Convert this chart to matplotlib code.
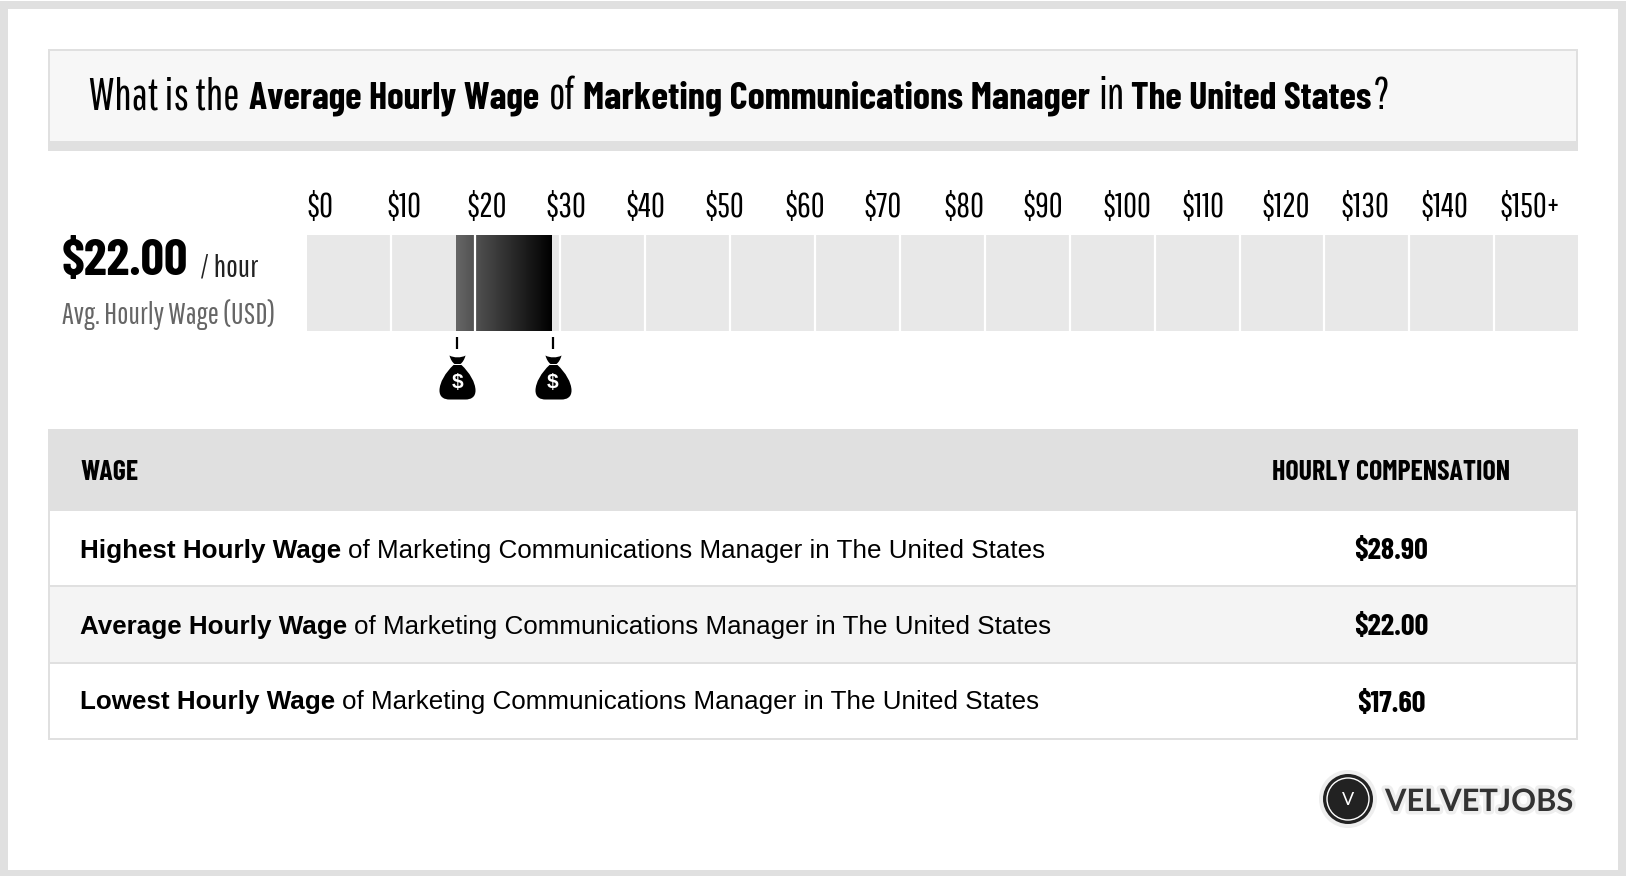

import numpy as np
import matplotlib
matplotlib.use("Agg")
import matplotlib.pyplot as plt
from matplotlib.patches import Rectangle, Circle
from matplotlib.path import Path
from matplotlib.colors import LinearSegmentedColormap
import matplotlib.patheffects as pe

# ---- data ----
tick_values = [0, 10, 20, 30, 40, 50, 60, 70, 80, 90, 100, 110, 120, 130, 140, 150]
tick_labels = [r"\$0", r"\$10", r"\$20", r"\$30", r"\$40", r"\$50", r"\$60", r"\$70", r"\$80",
               r"\$90", r"\$100", r"\$110", r"\$120", r"\$130", r"\$140", r"\$150+"]
low_wage = 17.6
avg_wage = 22.0
high_wage = 28.9
row_names = ["Highest Hourly Wage", "Average Hourly Wage", "Lowest Hourly Wage"]
row_values = [high_wage, avg_wage, low_wage]
row_suffix = "of Marketing Communications Manager in The United States"

W, H = 1626, 876
LIGHT = ["Pathway Gothic One", "Archivo Narrow", "Liberation Sans"]
BOLD = ["Barlow Condensed", "Oswald", "Liberation Sans"]
BODY = ["Liberation Sans", "DejaVu Sans"]
GREY = "#e0e0e0"

fig = plt.figure(figsize=(W / 100, H / 100), dpi=100, facecolor="white")
rend = fig.canvas.get_renderer()

def fit(s, fam, width, weight="normal"):
    t = fig.text(0, 0, s, family=fam, weight=weight, fontsize=20)
    w = t.get_window_extent(rend).width
    t.remove()
    return 20 * width / w

def px_axes(x0, y0, x1, y1, z=1):
    a = fig.add_axes([x0 / W, 1 - y1 / H, (x1 - x0) / W, (y1 - y0) / H])
    a.set_zorder(z)
    a.patch.set_alpha(0)
    return a

ax = px_axes(0, 0, W, H, 0)
ax.set_xlim(0, W)
ax.set_ylim(H, 0)
ax.axis("off")

def rect(x0, y0, x1, y1, c, z=1):
    ax.add_patch(Rectangle((x0, y0), x1 - x0, y1 - y0, fc=c, ec="none", zorder=z))

# outer frame
rect(0, 1, W, 9, GREY)
rect(0, 870, W, H, GREY)
rect(0, 1, 8, H, GREY)
rect(1618, 1, W, H, GREY)

# header panel
rect(48, 49, 1578, 151, GREY)
rect(50, 51, 1576, 141, "#f7f7f7", 2)

fs_title_l = fit("What is the", LIGHT, 150)
title_runs = [("What is the", 89, False, 0), ("Average Hourly Wage", 249, True, 291), ("of", 549, False, 0),
              ("Marketing Communications Manager", 583, True, 506), ("in", 1098, False, 0),
              ("The United States", 1131, True, 241), ("?", 1374, False, 0)]
for s, x, b, w in title_runs:
    ax.text(x, 109, s, family=BOLD if b else LIGHT, weight="bold" if b else "normal",
            fontsize=fit(s, BOLD, w, "bold") if b else fs_title_l, color="#000000",
            va="baseline", ha="left", zorder=3)

# big number
ax.text(62, 275, r"\$22.00", family=BOLD, weight="bold", fontsize=fit(r"\$22.00", BOLD, 127, "bold"),
        color="#000", va="baseline", zorder=3)
ax.text(200, 277, "/ hour", family=LIGHT, fontsize=fit("/ hour", LIGHT, 58), color="#222", va="baseline", zorder=3)
ax.text(62, 324, "Avg. Hourly Wage (USD)", family=LIGHT, fontsize=fit("Avg. Hourly Wage (USD)", LIGHT, 212),
        color="#666", va="baseline", zorder=3)

# tick label axis
tx = px_axes(307, 227, 1500, 228, 3)
tx.set_xlim(0, 150)
tx.set_yticks([])
for sp in tx.spines.values():
    sp.set_visible(False)
tx.xaxis.tick_top()
tx.set_xticks(tick_values)
tx.set_xticklabels(tick_labels, family=LIGHT, fontsize=fit(r"\$100", LIGHT, 49), ha="left", color="#000")
tx.tick_params(axis="x", length=0, pad=3)

# gauge
g = px_axes(307, 235, 1578, 331, 3)
g.set_xlim(0, 150)
g.set_ylim(0, 1)
g.axis("off")
g.bar(tick_values[:-1], 1, width=10, align="edge", color="#e8e8e8", linewidth=0, zorder=1)
cmap = LinearSegmentedColormap.from_list("w", ["#666666", "#000000"])
g.imshow(np.linspace(0, 1, 256).reshape(1, -1), extent=(low_wage, high_wage, 0, 1), cmap=cmap,
         aspect="auto", interpolation="bilinear", zorder=2)
g.set_xlim(0, 150)
g.set_ylim(0, 1)
g.vlines([v * 1.002 - 0.16 for v in tick_values[1:-1]], 0, 1, color="white", lw=1.6, zorder=3)

# wage range markers
bag_top = Path(
    [(-8, 22), (-4, 19.5), (4, 19.5), (8, 22), (7, 18), (5, 15), (3, 13.5), (-3, 13.5), (-5, 15), (-7, 18), (-8, 22), (-8, 22)],
    [Path.MOVETO, Path.CURVE4, Path.CURVE4, Path.CURVE4, Path.CURVE4, Path.CURVE4, Path.CURVE4, Path.LINETO,
     Path.CURVE4, Path.CURVE4, Path.CURVE4, Path.CLOSEPOLY])
bag_body = Path(
    [(-4, 12.5), (-12, 5), (-18, -5), (-18, -13), (-18, -20), (-13, -22), (-8, -22), (8, -22),
     (13, -22), (18, -20), (18, -13), (18, -5), (12, 5), (4, 12.5), (-4, 12.5)],
    [Path.MOVETO, Path.CURVE4, Path.CURVE4, Path.CURVE4, Path.CURVE4, Path.CURVE4, Path.CURVE4, Path.LINETO,
     Path.CURVE4, Path.CURVE4, Path.CURVE4, Path.CURVE4, Path.CURVE4, Path.CURVE4, Path.CLOSEPOLY])
bag = Path.make_compound_path(bag_top, bag_body)
m = px_axes(308, 335, 1579, 405, 3)
m.set_xlim(0, 150)
m.set_ylim(405, 335)
m.axis("off")
for v in (low_wage, high_wage):
    m.vlines(v, 337, 349, color="black", lw=1.6)
    m.plot([v], [377], marker=bag, markersize=31.7, color="black", mec="none", ls="none")
    m.text(v, 383, r"\$", family=BODY, weight="bold", fontsize=15, color="white", ha="center", va="center")

# table
T, HB, L, R = 429, 511, 48, 1578
rect(L, T, R, 740, GREY)
rect(L + 2, HB, R - 2, 585, "white", 2)
rect(L + 2, 587, R - 2, 662, "#f4f4f4", 2)
rect(L + 2, 664, R - 2, 738, "white", 2)
fs_head = fit("HOURLY COMPENSATION", BOLD, 238, "bold")
ax.text(80, 480, "WAGE", family=BOLD, weight="bold", fontsize=fs_head, color="#000", va="baseline", zorder=3)
ax.text(1391, 480, "HOURLY COMPENSATION", family=BOLD, weight="bold", fontsize=fs_head, color="#000",
        ha="center", va="baseline", zorder=3)

fs_val = fit(r"\$28.90", BOLD, 74, "bold")
for name, val, base, vbase in zip(row_names, row_values, [558, 634, 709], [559, 635, 712]):
    t = ax.text(80, base, name, family=BODY, weight="bold", fontsize=18.75, color="#000", va="baseline", zorder=3)
    e = t.get_window_extent(rend)
    ax.text(e.x1 + 7.2, base, row_suffix, family=BODY, fontsize=18.75, color="#000", va="baseline", zorder=3)
    ax.text(1391, vbase, r"\$%.2f" % val, family=BOLD, weight="bold", fontsize=fs_val, color="#000",
            ha="center", va="baseline", zorder=3)

# logo
ax.add_patch(Circle((1348, 799), 29, fc="#eeeeee", ec="none", zorder=3))
ax.add_patch(Circle((1348, 799), 25, fc="#222222", ec="none", zorder=4))
ax.add_patch(Circle((1348, 799), 21, fc="none", ec="white", lw=1, zorder=5))
ax.text(1348, 800, "V", family=["Lato", "DejaVu Sans"], fontsize=13, color="white", ha="center", va="center", zorder=6)
ax.text(1385, 811, "VELVETJOBS", family=["Lato", "DejaVu Sans"], weight="bold",
        fontsize=fit("VELVETJOBS", ["Lato", "DejaVu Sans"], 188, "bold"), color="#333333",
        va="baseline", zorder=4, path_effects=[pe.withStroke(linewidth=5, foreground="#eeeeee")])

fig.savefig("out.png", dpi=100, facecolor="white")
